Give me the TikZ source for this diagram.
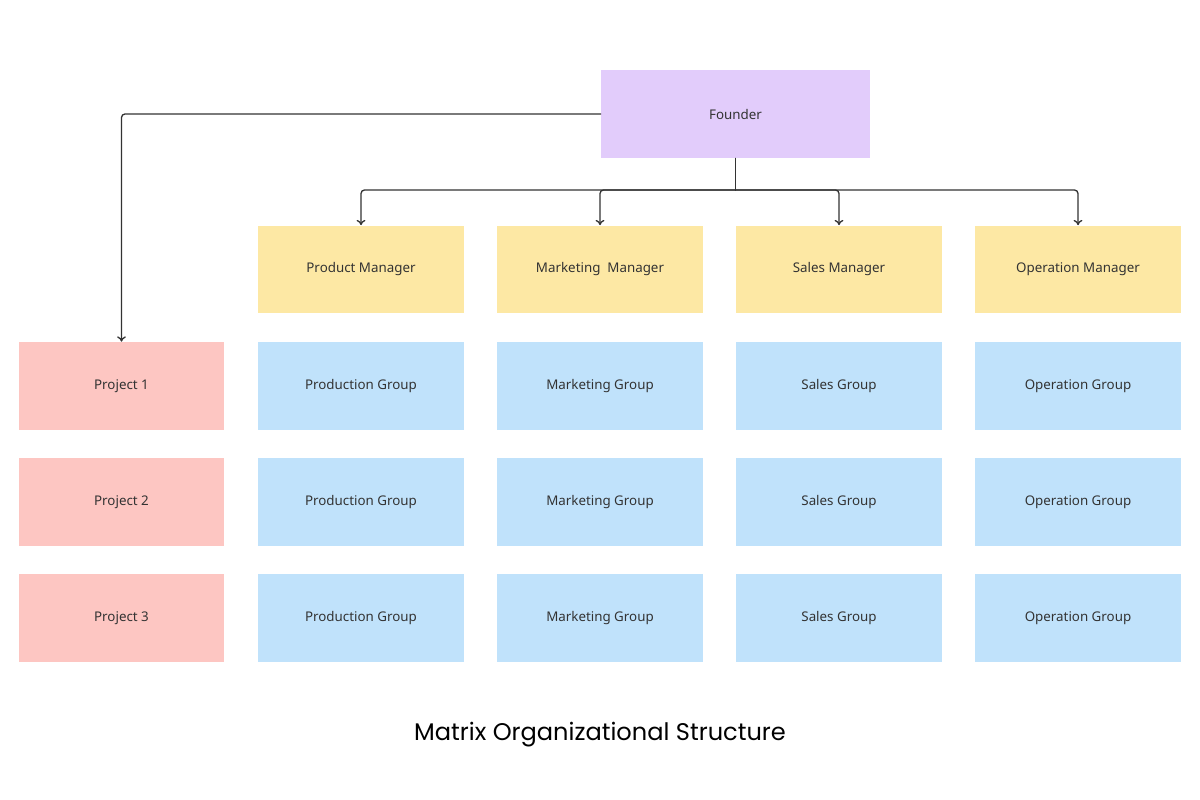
\documentclass[tikz,border=0pt]{standalone}
\usepackage{fontspec}
\setmainfont{Noto Sans}
\newfontfamily\titlefont{Poppins}
\usetikzlibrary{arrows.meta}
\definecolor{founderfill}{HTML}{E2CCFB}
\definecolor{managerfill}{HTML}{FDE8A4}
\definecolor{groupfill}{HTML}{C0E2FB}
\definecolor{projectfill}{HTML}{FDC6C2}
\definecolor{inkgray}{HTML}{333333}
\tikzset{
  box/.style={inner sep=0pt,minimum width=4.12cm,minimum height=1.76cm,
    text=inkgray,font=\fontsize{7.6}{9}\selectfont},
  founderbox/.style={box,fill=founderfill,minimum width=5.38cm},
  managerbox/.style={box,fill=managerfill},
  groupbox/.style={box,fill=groupfill},
  projectbox/.style={box,fill=projectfill},
  link/.style={draw=inkgray,line width=0.75pt,rounded corners=2pt}
}
\begin{document}
\begin{tikzpicture}[x=0.02cm,y=-0.02cm,line cap=round,line join=round,>={To[length=3pt,width=5pt]}]
  \useasboundingbox (0,0) rectangle (1200,800);
  \node[founderbox] (founder) at (735.5,114) {Founder};
  \node[managerbox] (prodmgr) at (361,269.5) {Product Manager};
  \node[managerbox] (mktmgr) at (600,269.5) {Marketing\ \ Manager};
  \node[managerbox] (salesmgr) at (839,269.5) {Sales Manager};
  \node[managerbox] (opermgr) at (1078,269.5) {Operation Manager};
  \foreach \r/\y in {1/386,2/502,3/618} {
    \node[projectbox] (proj\r) at (121.5,\y) {Project \r};
    \node[groupbox] (prodgrp\r) at (361,\y) {Production Group};
    \node[groupbox] (mktgrp\r) at (600,\y) {Marketing Group};
    \node[groupbox] (salesgrp\r) at (839,\y) {Sales Group};
    \node[groupbox] (opergrp\r) at (1078,\y) {Operation Group};
  }
  \coordinate (bus) at (735.5,190);
  \draw[link] (founder.south) -- (bus);
  \foreach \m in {prodmgr,mktmgr,salesmgr,opermgr}
    \draw[link,->] (bus) -| (\m.north);
  \draw[link,->] (founder.west) -| (proj1.north);
  \node[text=black,font=\titlefont\fontsize{13.7}{16}\selectfont] (title) at (600,735)
    {Matrix Organizational Structure};
\end{tikzpicture}
\end{document}
